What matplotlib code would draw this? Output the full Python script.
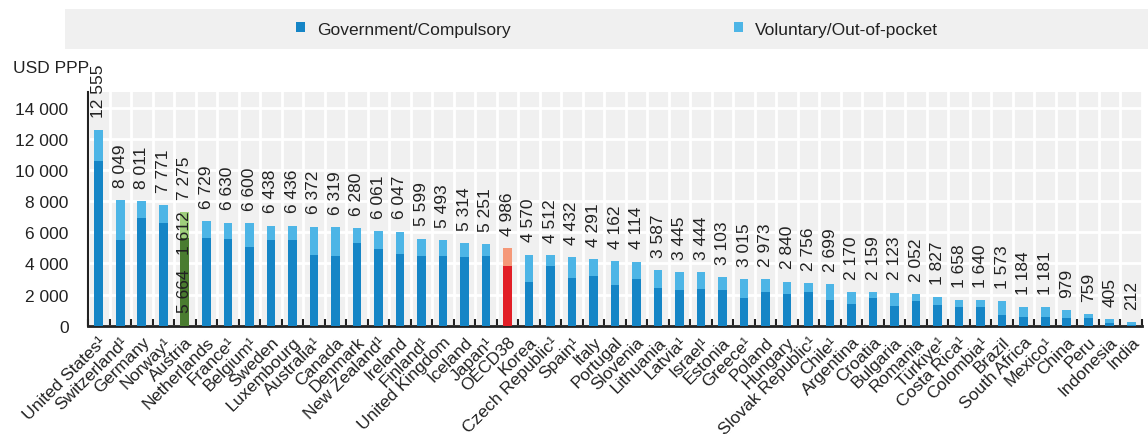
import matplotlib.pyplot as plt
from matplotlib.patches import Rectangle
import numpy as np

plt.rcParams['font.family'] = ['Liberation Sans', 'DejaVu Sans']

# Dane
kraje = ["United States¹", "Switzerland¹", "Germany", "Norway¹", "Austria", "Netherlands",
         "France¹", "Belgium¹", "Sweden", "Luxembourg", "Australia¹", "Canada", "Denmark",
         "New Zealand¹", "Ireland", "Finland¹", "United Kingdom", "Iceland", "Japan¹", "OECD38",
         "Korea", "Czech Republic¹", "Spain¹", "Italy", "Portugal", "Slovenia", "Lithuania",
         "Latvia¹", "Israel¹", "Estonia", "Greece¹", "Poland", "Hungary", "Slovak Republic¹",
         "Chile¹", "Argentina", "Croatia", "Bulgaria", "Romania", "Türkiye¹", "Costa Rica¹",
         "Colombia¹", "Brazil", "South Africa", "Mexico¹", "China", "Peru", "Indonesia", "India"]

razem = [12555, 8049, 8011, 7771, 7275, 6729, 6630, 6600, 6438, 6436, 6372, 6319, 6280, 6061,
         6047, 5599, 5493, 5314, 5251, 4986, 4570, 4512, 4432, 4291, 4162, 4114, 3587, 3445,
         3444, 3103, 3015, 2973, 2840, 2756, 2699, 2170, 2159, 2123, 2052, 1827, 1658, 1640,
         1573, 1184, 1181, 979, 759, 405, 212]

rzadowe = [10600, 5510, 6920, 6620, 5664, 5660, 5570, 5040, 5530, 5530, 4560, 4500, 5310, 4950,
           4630, 4460, 4460, 4390, 4470, 3860, 2830, 3860, 3080, 3210, 2640, 3020, 2440, 2270,
           2340, 2320, 1760, 2190, 2060, 2190, 1650, 1410, 1800, 1290, 1610, 1350, 1220, 1220,
           670, 580, 580, 510, 510, 190, 70]

dobrowolne = [1955, 2539, 1091, 1151, 1612, 1069, 1060, 1560, 908, 906, 1812, 1819, 970, 1111,
              1417, 1139, 1033, 924, 781, 1126, 1740, 652, 1352, 1081, 1522, 1094, 1147, 1175,
              1104, 783, 1255, 783, 780, 566, 1049, 760, 359, 833, 442, 477, 438, 420,
              903, 604, 601, 469, 249, 215, 142]

# Kolory
ciemny = '#1585c6'
jasny = '#4db5e6'
kol_ciemne = [ciemny] * len(kraje)
kol_jasne = [jasny] * len(kraje)
kol_ciemne[kraje.index("Austria")] = '#4a7c30'
kol_jasne[kraje.index("Austria")] = '#9fcf7c'
kol_ciemne[kraje.index("OECD38")] = '#e21e26'
kol_jasne[kraje.index("OECD38")] = '#f59878'

fs = 12.5
tekst_kol = '#222222'

fig = plt.figure(figsize=(11.48, 4.35), dpi=100)
ax = fig.add_axes([88 / 1148, 1 - 326.7 / 435, (1142 - 88) / 1148, (326.7 - 93.3) / 435])

x = np.arange(len(kraje))
b1 = ax.bar(x, rzadowe, width=0.4, color=kol_ciemne, label='Government/Compulsory', zorder=3)
b2 = ax.bar(x, dobrowolne, width=0.4, bottom=rzadowe, color=kol_jasne,
            label='Voluntary/Out-of-pocket', zorder=3)

# Etykiety wartości nad słupkami
for i in range(len(kraje)):
    gora = rzadowe[i] + dobrowolne[i]
    tekst = f"{razem[i]:,}".replace(",", " ")
    ax.annotate(tekst, (x[i], gora), xytext=(0, 9.5), textcoords='offset points',
                rotation=90, ha='center', va='bottom', fontsize=fs, color=tekst_kol)

# Etykiety wewnątrz słupka Austrii
ia = kraje.index("Austria")
ax.text(x[ia], rzadowe[ia] * 0.4, f"{rzadowe[ia]:,}".replace(",", " "), rotation=90,
        ha='center', va='center', fontsize=fs, color=tekst_kol, zorder=4)
ax.text(x[ia], rzadowe[ia] + dobrowolne[ia] * 0.2, f"{dobrowolne[ia]:,}".replace(",", " "),
        rotation=90, ha='center', va='center', fontsize=fs, color=tekst_kol, zorder=4)

ax.set_xlim(-0.5, len(kraje) - 0.5)
ax.set_ylim(0, 15000)
ax.set_facecolor('#f0f0f0')

ax.set_yticks(np.arange(0, 14001, 2000))
ax.set_yticklabels([f"{v:,}".replace(",", " ") for v in range(0, 14001, 2000)])
ax.tick_params(axis='y', length=0, pad=14, labelsize=fs, labelcolor=tekst_kol)

ax.set_xticks(x)
ax.set_xticklabels(kraje, rotation=45, ha='right', va='top', rotation_mode='anchor')
ax.tick_params(axis='x', which='major', length=0, pad=6, labelsize=fs, labelcolor=tekst_kol)
ax.set_xticks(np.arange(-0.5, len(kraje), 1), minor=True)
ax.tick_params(axis='x', which='minor', direction='in', length=5, width=1.5, color=tekst_kol)

ax.grid(True, axis='y', which='major', color='white', linewidth=2)
ax.grid(True, axis='x', which='minor', color='white', linewidth=2)
ax.set_axisbelow(True)

for s in ['top', 'right']:
    ax.spines[s].set_visible(False)
ax.spines['bottom'].set_linewidth(2)
ax.spines['bottom'].set_color(tekst_kol)
ax.spines['left'].set_linewidth(1.5)
ax.spines['left'].set_color(tekst_kol)

# Legenda
fig.patches.append(Rectangle((65 / 1148, 1 - 50 / 435), 1 - 65 / 1148, 40 / 435,
                             transform=fig.transFigure, facecolor='#f0f0f0',
                             edgecolor='none', zorder=0))
fig.legend(handles=[b1, b2], loc='center', bbox_to_anchor=(617 / 1148, 1 - 30 / 435), ncol=2,
           frameon=False, fontsize=fs, handlelength=0.52, handleheight=0.52,
           handletextpad=0.65, columnspacing=12.9, labelcolor=tekst_kol)

fig.text(13 / 1148, 1 - 73 / 435, 'USD PPP', fontsize=fs, color=tekst_kol, va='baseline')

plt.savefig('out.png', dpi=100)
